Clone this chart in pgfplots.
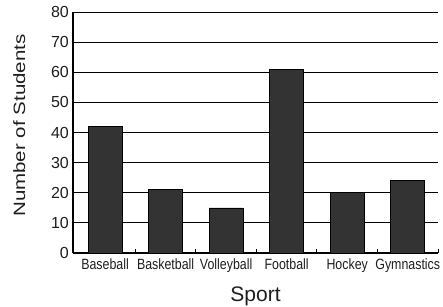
\documentclass[border=0pt]{standalone}
\usepackage{pgfplots}
\pgfplotsset{compat=1.18}
\usepackage{fontspec}
\setmainfont{Liberation Sans}
\usepackage{graphicx}
\definecolor{barc}{HTML}{333333}
\definecolor{txt}{HTML}{1E1E1E}
\newcommand\xl[1]{\scalebox{1}[1.2]{#1}}
\begin{document}
\begin{tikzpicture}[x=1pt,y=1pt]
\useasboundingbox (0,0) rectangle (443,306);
\begin{axis}[
  at={(73pt,53pt)}, anchor=south west,
  scale only axis, width=365pt, height=241pt,
  xmin=-0.53, xmax=5.5, ymin=0, ymax=80,
  axis x line=bottom, axis y line=left,
  axis line style={-, black, line width=1.3pt},
  ytick={0,10,...,80},
  ymajorgrids, grid style={black, line width=0.8pt},
  xtick={0,...,5},
  xticklabels={\xl{Baseball},\xl{Basketball},\xl{Volleyball},\xl{Football},\xl{Hockey},\xl{Gymnastics}},
  major tick length=0pt,
  extra x ticks={0.5,1.5,2.5,3.5,4.5,5.5},
  extra x tick labels={},
  extra x tick style={major tick length=4pt, tick align=inside, tick style={line width=1pt, black}, grid=none},
  /pgf/number format/assume math mode=true,
  yticklabel style={font=\fontsize{16}{16}\selectfont, text=txt, inner sep=0pt, xshift=-4pt},
  xticklabel style={font=\fontsize{12.4}{12.4}\selectfont, text=txt, inner sep=0pt, yshift=-6pt},
  xlabel={Sport},
  xlabel style={font=\fontsize{21}{21}\selectfont, text=txt, inner sep=0pt, at={(axis description cs:0.5,0)}, anchor=north, yshift=-34pt},
  ylabel={\scalebox{1}[0.8]{Number of Students}},
  ylabel style={font=\fontsize{20.5}{20.5}\selectfont, text=txt, inner sep=0pt, at={(axis description cs:-0.1315,0.529)}, anchor=base, rotate=0},
]
\addplot[ybar, bar width=34pt, fill=barc, draw=black, line width=0.6pt]
  coordinates {(0,42) (1,21) (2,15) (3,61) (4,20) (5,24)};
\end{axis}
\end{tikzpicture}
\end{document}
